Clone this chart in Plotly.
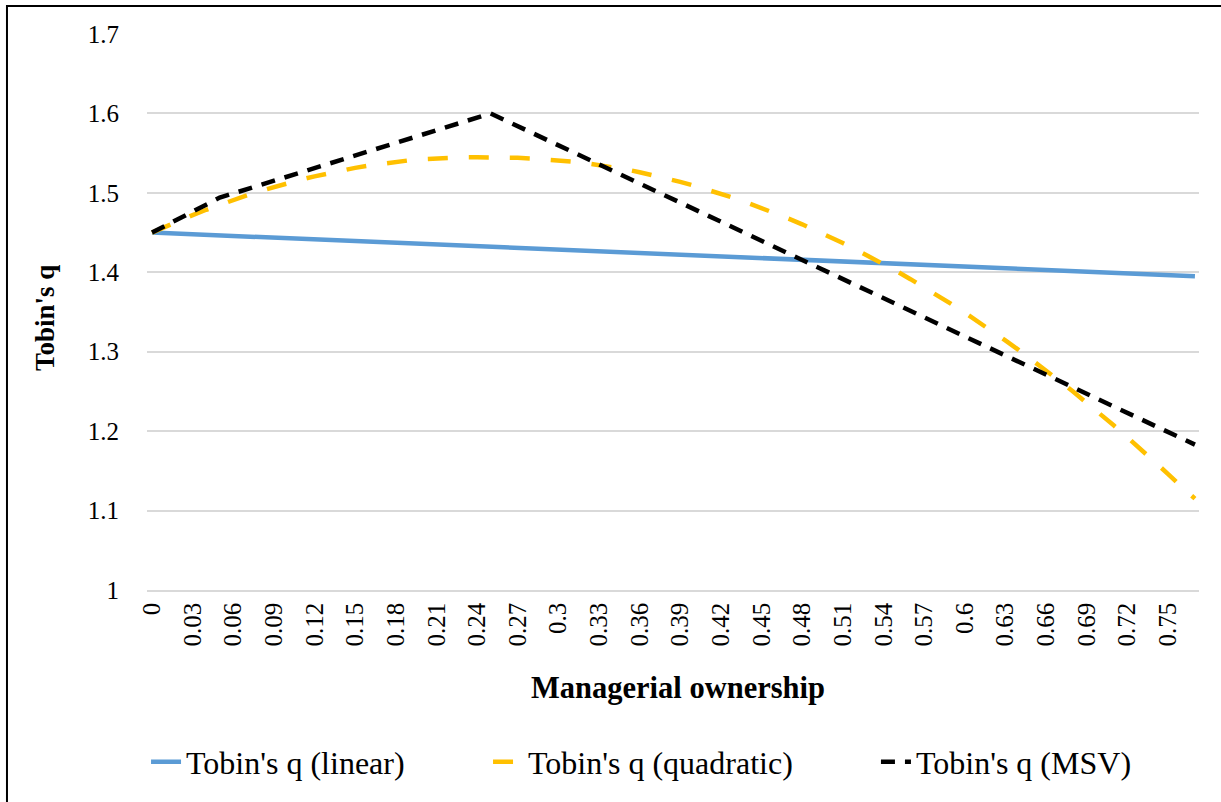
import plotly.graph_objects as go

# ---- data ----
ownership = [0.00, 0.01, 0.02, 0.03, 0.04, 0.05, 0.06, 0.07, 0.08, 0.09,
             0.10, 0.11, 0.12, 0.13, 0.14, 0.15, 0.16, 0.17, 0.18, 0.19,
             0.20, 0.21, 0.22, 0.23, 0.24, 0.25, 0.26, 0.27, 0.28, 0.29,
             0.30, 0.31, 0.32, 0.33, 0.34, 0.35, 0.36, 0.37, 0.38, 0.39,
             0.40, 0.41, 0.42, 0.43, 0.44, 0.45, 0.46, 0.47, 0.48, 0.49,
             0.50, 0.51, 0.52, 0.53, 0.54, 0.55, 0.56, 0.57, 0.58, 0.59,
             0.60, 0.61, 0.62, 0.63, 0.64, 0.65, 0.66, 0.67, 0.68, 0.69,
             0.70, 0.71, 0.72, 0.73, 0.74, 0.75, 0.76, 0.77]

q_quadratic = [1.4500, 1.4576, 1.4650, 1.4720, 1.4787, 1.4851, 1.4911, 1.4969, 1.5023, 1.5074,
               1.5122, 1.5167, 1.5208, 1.5247, 1.5282, 1.5315, 1.5344, 1.5369, 1.5392, 1.5410,
               1.5424, 1.5435, 1.5442, 1.5446, 1.5448, 1.5448, 1.5446, 1.5441, 1.5433, 1.5423,
               1.5410, 1.5394, 1.5375, 1.5351, 1.5325, 1.5295, 1.5260, 1.5223, 1.5182, 1.5139,
               1.5092, 1.5042, 1.4989, 1.4933, 1.4873, 1.4811, 1.4745, 1.4676, 1.4604, 1.4528,
               1.4450, 1.4368, 1.4284, 1.4196, 1.4105, 1.4011, 1.3913, 1.3813, 1.3709, 1.3602,
               1.3492, 1.3379, 1.3262, 1.3143, 1.3020, 1.2895, 1.2766, 1.2633, 1.2498, 1.2360,
               1.2218, 1.2073, 1.1925, 1.1774, 1.1620, 1.1463, 1.1302, 1.1150]

linear_x = [0.00, 0.77]
q_linear = [1.450, 1.395]

msv_x = [0.00, 0.05, 0.25, 0.77]
q_msv = [1.450, 1.494, 1.600, 1.183]

tick_values = [0.00, 0.03, 0.06, 0.09, 0.12, 0.15, 0.18, 0.21, 0.24, 0.27, 0.30, 0.33, 0.36,
               0.39, 0.42, 0.45, 0.48, 0.51, 0.54, 0.57, 0.60, 0.63, 0.66, 0.69, 0.72, 0.75]
tick_labels = ["0", "0.03", "0.06", "0.09", "0.12", "0.15", "0.18", "0.21", "0.24", "0.27",
               "0.3", "0.33", "0.36", "0.39", "0.42", "0.45", "0.48", "0.51", "0.54", "0.57",
               "0.6", "0.63", "0.66", "0.69", "0.72", "0.75"]
y_ticks = [1.0, 1.1, 1.2, 1.3, 1.4, 1.5, 1.6, 1.7]
y_labels = ["1", "1.1", "1.2", "1.3", "1.4", "1.5", "1.6", "1.7"]

FONT = "Liberation Serif, Times New Roman, serif"

fig = go.Figure()
fig.add_trace(go.Scatter(x=linear_x, y=q_linear, mode="lines", name="Tobin's q (linear)",
                         line=dict(color="#5B9BD5", width=4.5), legend="legend"))
fig.add_trace(go.Scatter(x=ownership, y=q_quadratic, mode="lines", name="Tobin's q (quadratic)",
                         line=dict(color="#FFC000", width=4.5, dash="20px,21px"), legend="legend2"))
fig.add_trace(go.Scatter(x=msv_x, y=q_msv, mode="lines", name="Tobin's q (MSV)",
                         line=dict(color="#000000", width=4.5, dash="14px,10px"), legend="legend3"))

def leg(xpos):
    return dict(orientation="h", xref="container", yref="container",
                x=xpos, xanchor="left", y=0.05, yanchor="middle",
                font=dict(family=FONT, size=32, color="black"), bgcolor="rgba(0,0,0,0)")

fig.update_layout(
    width=1221, height=802,
    margin=dict(l=147, r=22, t=34, b=212),
    paper_bgcolor="white", plot_bgcolor="white",
    font=dict(family=FONT, color="black", size=25),
    showlegend=True,
    legend=leg(0.1196), legend2=leg(0.3997), legend3=leg(0.7174),
    xaxis=dict(range=[-0.0037, 0.773], tickmode="array", tickvals=tick_values, ticktext=tick_labels,
               tickangle=-90, showgrid=False, zeroline=False, showline=True,
               linecolor="#D9D9D9", linewidth=1.5, ticks="", ticklabelstandoff=1,
               tickfont=dict(family=FONT, size=25, color="black")),
    yaxis=dict(range=[1.0, 1.7], tickmode="array", tickvals=y_ticks, ticktext=y_labels,
               showgrid=True, gridcolor="#D9D9D9", gridwidth=1.5, zeroline=False,
               showline=False, ticks="", ticklabelstandoff=27,
               tickfont=dict(family=FONT, size=25, color="black")),
    annotations=[
        dict(text="<b>Managerial ownership</b>", xref="paper", yref="paper", x=0.505, y=-0.176,
             xanchor="center", yanchor="middle", showarrow=False,
             font=dict(family=FONT, size=30.5, color="black")),
        dict(text="<b>Tobin's q</b>", xref="paper", yref="paper", x=-0.097, y=0.489,
             xanchor="center", yanchor="middle", showarrow=False, textangle=-90,
             font=dict(family=FONT, size=27, color="black")),
    ],
    shapes=[dict(type="rect", xref="paper", yref="paper", x0=-0.1331, y0=-0.45, x1=1.06, y1=1.0504,
                 line=dict(color="black", width=2), fillcolor="rgba(0,0,0,0)", layer="above")],
)

fig.write_html("out.html", config={"displayModeBar": False},
               post_script="document.body.style.margin='0px';document.body.style.overflow='hidden';")
